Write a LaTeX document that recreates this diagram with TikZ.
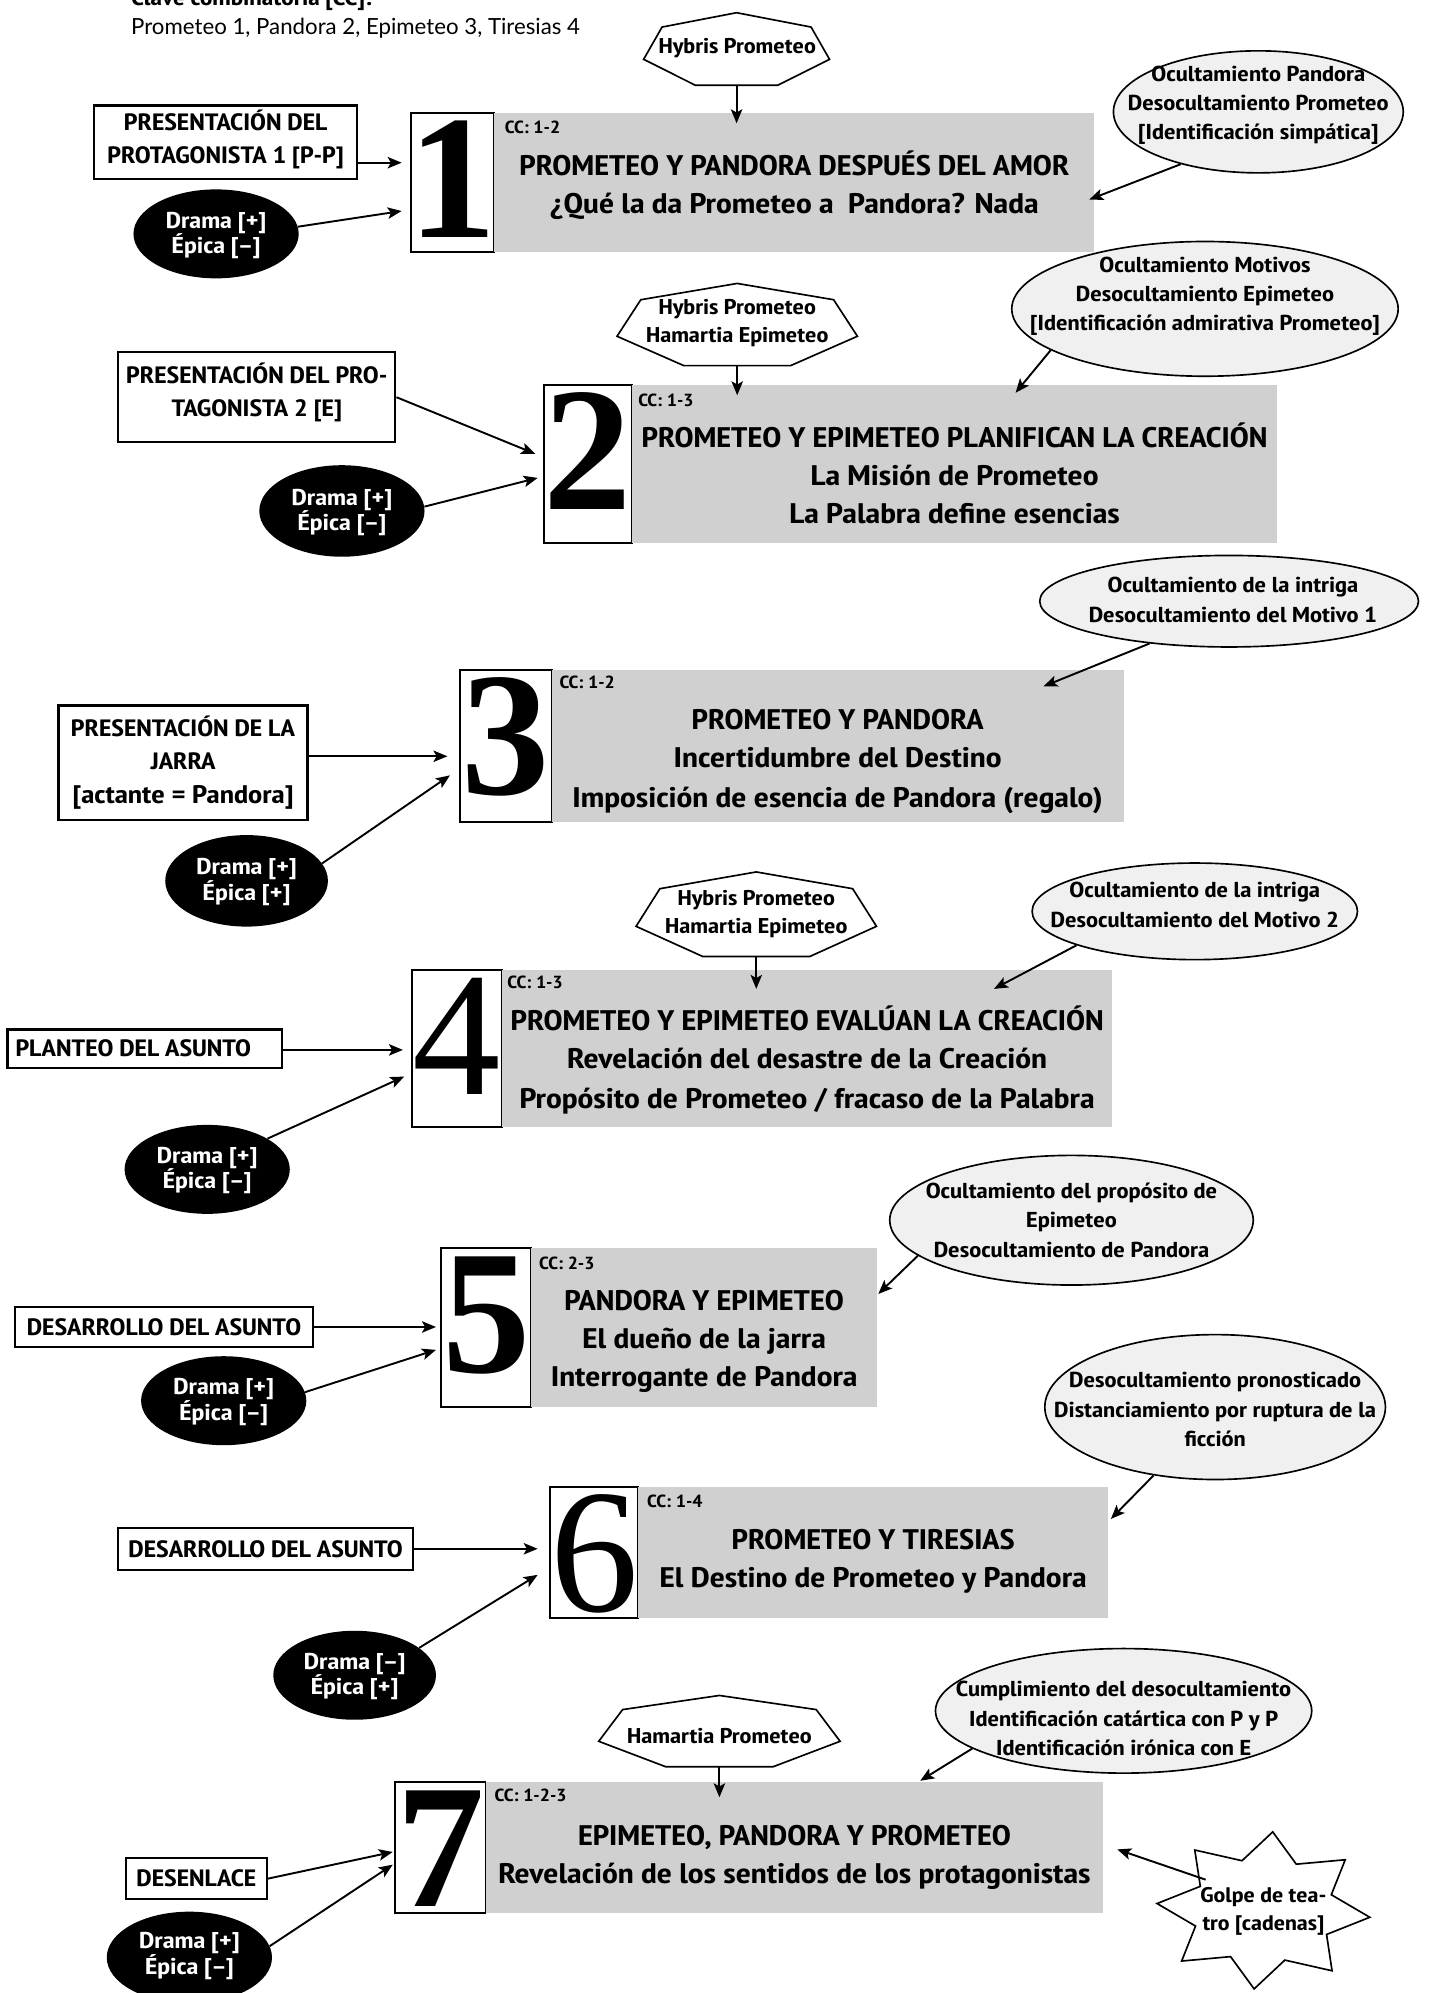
\documentclass[tikz,border=0pt]{standalone}
\usepackage{fontspec}
\setmainfont{Lato}
\newfontfamily\boldfam{PT Sans Narrow Bold}[FakeStretch=1.25]
\newfontfamily\capsfam{PT Sans Narrow Bold}[FakeStretch=1.215]
\newfontfamily\numfont{Liberation Serif}
\usetikzlibrary{arrows.meta,calc,shapes.geometric}
\definecolor{boxgray}{HTML}{D0D0D0}
\definecolor{ellgray}{HTML}{F0F0F0}
\newcommand\fs[2]{\fontsize{#1}{#2}\selectfont}
\newcommand\titlefont{\boldfam\fs{22.3}{30}}
\newcommand\titlecapsfont{\capsfam\fs{22.3}{30}}
\newcommand\ccfont{\capsfam\fs{13.8}{16}}
\newcommand\sidefont{\capsfam\fs{18.6}{26}}
\newcommand\blkfont{\boldfam\fs{18}{20}}
\newcommand\lellfont{\boldfam\fs{17}{23}}
\newcommand\heptfont{\boldfam\fs{16.8}{22}}
\newcommand\starfont{\boldfam\fs{16.6}{22}}
\newcommand\bigdigit[2]{{\numfont#1\fontsize{139}{139}\selectfont #2}}
\newcommand\heptagon[4]{%
  \draw[heptline] (#1,#2) +(-90:#3 and #4) -- +(-38.57:#3 and #4) -- +(12.86:#3 and #4)
   -- +(64.29:#3 and #4) -- +(115.71:#3 and #4) -- +(167.14:#3 and #4) -- +(218.57:#3 and #4) -- cycle;}
\begin{document}
\begin{tikzpicture}[x=1pt,y=-1pt,
  arr/.style={line width=1.5pt,-{Stealth[length=11pt,width=9pt,inset=2.5pt]}},
  sidebox/.style={draw,line width=1.8pt,fill=white,inner sep=0pt},
  sidetext/.style={font=\sidefont,align=center,inner sep=0pt},
  numbox/.style={draw,line width=1.5pt,fill=white,inner sep=0pt},
  graybox/.style={fill=boxgray,inner sep=0pt},
  numtext/.style={anchor=base,inner sep=0pt},
  blk/.style={ellipse,fill=black,inner sep=0pt},
  blktext/.style={font=\blkfont,text=white,align=center,inner sep=0pt},
  lell/.style={ellipse,draw,line width=1.3pt,fill=ellgray,inner sep=0pt},
  ltext/.style={font=\lellfont,align=center,inner sep=0pt},
  tline/.style={font=\titlefont,anchor=base,inner sep=0pt},
  tcaps/.style={font=\titlecapsfont,anchor=base,inner sep=0pt},
  cclabel/.style={font=\ccfont,anchor=base west,inner sep=0pt},
  heptline/.style={draw,line width=1.3pt,fill=white},
  hepttext/.style={font=\heptfont,align=center,inner sep=0pt}]
\useasboundingbox (0,0) rectangle (1133,1568);
\fill[white] (0,0) rectangle (1133,1568);
% header
\node[anchor=base west,inner sep=0pt,font=\boldfam\fs{17.5}{19}] (clave) at (103,4) {Clave combinatoria [CC]:};
\node[anchor=base west,inner sep=0pt,font=\fontsize{17.5}{19}\selectfont] (key) at (103,27.5) {Prometeo 1, Pandora 2, Epimeteo 3, Tiresias 4};

% ===== section 1
\node[numbox,minimum width=66,minimum height=109] (n1) at (356,143.5) {};
\node[graybox,minimum width=472,minimum height=109] (g1) at (625,143.5) {};
\node[numtext] (d1) at (356,187) {\bigdigit\bfseries{1}};
\node[cclabel] (c1) at (397,105) {CC: 1-2};
\node[tcaps] (t1a) at (625,138) {PROMETEO Y PANDORA DESPUÉS DEL AMOR};
\node[tline] (t1b) at (625,168) {¿Qué la da Prometeo a\ \ Pandora? Nada};
\heptagon{579.5}{40}{75}{30}
\node[hepttext] (h1) at (580,38) {Hybris Prometeo};
\coordinate (h1b) at (579.5,67);
\coordinate (g1t) at (579.5,97);
\draw[arr] (h1b) -- (g1t);
\node[sidebox,minimum width=207,minimum height=58] (p1) at (177.5,112) {};
\node[sidetext] (p1t) at (177.5,110) {PRESENTACIÓN DEL\\PROTAGONISTA 1 [P-P]};
\coordinate (n1a) at (316,128);
\draw[arr] (p1.east |- n1a) -- (n1a);
\node[blk,minimum width=130,minimum height=70] (e1) at (170,184) {};
\node[blktext] (e1t) at (170,185.5) {Drama [+]\\Épica [–]};
\coordinate (n1b) at (316,166);
\draw[arr] (e1.5) -- (n1b);
\node[lell,minimum width=228,minimum height=96] (l1) at (990,88) {};
\node[ltext] (l1t) at (990,83) {Ocultamiento Pandora\\Desocultamiento Prometeo\\{}[Identificación simpática]};
\coordinate (g1r) at (857,157);
\draw[arr] (l1.214) -- (g1r);

% ===== section 2
\node[numbox,minimum width=69,minimum height=124] (n2) at (462.5,365) {};
\node[graybox,minimum width=508,minimum height=124] (g2) at (751,365) {};
\node[numtext] (d2) at (462.5,401) {\bigdigit\bfseries{2}};
\node[cclabel] (c2) at (502,320) {CC: 1-3};
\node[tcaps] (t2a) at (751,352) {PROMETEO Y EPIMETEO PLANIFICAN LA CREACIÓN};
\node[tline] (t2b) at (751,382) {La Misión de Prometeo};
\node[tline] (t2c) at (751,412) {La Palabra define esencias};
\heptagon{580}{257}{97}{34}
\node[hepttext] (h2) at (580,254) {Hybris Prometeo\\Hamartia Epimeteo};
\coordinate (h2b) at (580,287.6);
\coordinate (g2t) at (580,311);
\draw[arr] (h2b) -- (g2t);
\node[sidebox,minimum width=218,minimum height=71] (p2) at (202,312.5) {};
\node[sidetext] (p2t) at (202,309) {PRESENTACIÓN DEL PRO-\\TAGONISTA 2 [E]};
\coordinate (n2a) at (421,357);
\draw[arr] (p2.east) -- (n2a);
\node[blk,minimum width=130,minimum height=72] (e2) at (269,402) {};
\node[blktext] (e2t) at (269,403) {Drama [+]\\Épica [–]};
\coordinate (n2b) at (423,376);
\draw[arr] (e2.3) -- (n2b);
\node[lell,minimum width=304,minimum height=106] (l2) at (948,243) {};
\node[ltext] (l2t) at (948,233) {Ocultamiento Motivos\\Desocultamiento Epimeteo\\{}[Identificación admirativa Prometeo]};
\coordinate (g2r) at (799,309);
\draw[arr] (l2.195) -- (g2r);

% ===== section 3
\node[numbox,minimum width=72,minimum height=120] (n3) at (398,587) {};
\node[graybox,minimum width=450,minimum height=120] (g3) at (659,587) {};
\node[numtext] (d3) at (398,625) {\bigdigit\bfseries{3}};
\node[cclabel] (c3) at (440,542) {CC: 1-2};
\node[tcaps] (t3a) at (659,574) {PROMETEO Y PANDORA};
\node[tline] (t3b) at (659,604) {Incertidumbre del Destino};
\node[tline] (t3c) at (659,635) {Imposición de esencia de Pandora (regalo)};
\node[sidebox,minimum width=196,minimum height=90] (p3) at (144,600) {};
\node[sidetext] (p3t) at (144,600) {PRESENTACIÓN DE LA\\JARRA\\{\boldfam\fs{20}{26}[actante = Pandora]}};
\coordinate (n3a) at (352,595);
\draw[arr] (p3.east |- n3a) -- (n3a);
\node[blk,minimum width=128,minimum height=72] (e3) at (194,693) {};
\node[blktext] (e3t) at (194,694) {Drama [+]\\Épica [+]};
\coordinate (n3b) at (354,610);
\draw[arr] (e3.13) -- (n3b);
\node[lell,minimum width=298,minimum height=72] (l3) at (967,473) {};
\node[ltext] (l3t) at (970,472) {Ocultamiento de la intriga\\Desocultamiento del Motivo 1};
\coordinate (g3r) at (821,540);
\draw[arr] (l3.208) -- (g3r);

% ===== section 4
\node[numbox,minimum width=71,minimum height=124] (n4) at (359.5,825) {};
\node[graybox,minimum width=480,minimum height=124] (g4) at (635,825) {};
\node[numtext] (d4) at (359.5,861) {\bigdigit\mdseries{4}};
\node[cclabel] (c4) at (399,778) {CC: 1-3};
\node[tcaps] (t4a) at (635,811) {PROMETEO Y EPIMETEO EVALÚAN LA CREACIÓN};
\node[tline] (t4b) at (635,841) {Revelación del desastre de la Creación};
\node[tline] (t4c) at (635,872) {Propósito de Prometeo / fracaso de la Palabra};
\heptagon{595}{721}{97}{35}
\node[hepttext] (h4) at (595,719) {Hybris Prometeo\\Hamartia Epimeteo};
\coordinate (h4b) at (595,752.5);
\coordinate (g4t) at (595,778);
\draw[arr] (h4b) -- (g4t);
\node[sidebox,minimum width=216,minimum height=30] (p4) at (114,825) {};
\node[font=\sidefont,anchor=west,inner sep=0pt] (p4t) at (12,825) {PLANTEO DEL ASUNTO};
\coordinate (n4a) at (317,826);
\draw[arr] (p4.east |- n4a) -- (n4a);
\node[blk,minimum width=130,minimum height=70] (e4) at (163,920) {};
\node[blktext] (e4t) at (163,921) {Drama [+]\\Épica [–]};
\coordinate (n4b) at (318,847);
\draw[arr] (e4.27) -- (n4b);
\node[lell,minimum width=256,minimum height=76] (l4) at (940,717) {};
\node[ltext] (l4t) at (940,712) {Ocultamiento de la intriga\\Desocultamiento del Motivo 2};
\coordinate (g4r) at (782,778);
\draw[arr] (l4.196) -- (g4r);

% ===== section 5
\node[numbox,minimum width=71,minimum height=125] (n5) at (382.5,1044.5) {};
\node[graybox,minimum width=272,minimum height=125] (g5) at (554,1044.5) {};
\node[numtext] (d5) at (382.5,1080) {\bigdigit\bfseries{5}};
\node[cclabel] (c5) at (424,999) {CC: 2-3};
\node[tcaps] (t5a) at (554,1031) {PANDORA Y EPIMETEO};
\node[tline] (t5b) at (554,1061) {El dueño de la jarra};
\node[tline] (t5c) at (554,1091) {Interrogante de Pandora};
\node[sidebox,minimum width=234,minimum height=31] (p5) at (129,1044) {};
\node[sidetext] (p5t) at (129,1044) {DESARROLLO DEL ASUNTO};
\coordinate (n5a) at (343,1044);
\draw[arr] (p5.east) -- (n5a);
\node[blk,minimum width=130,minimum height=70] (e5) at (176,1102) {};
\node[blktext] (e5t) at (176,1103) {Drama [+]\\Épica [–]};
\coordinate (n5b) at (343,1062);
\draw[arr] (e5.6) -- (n5b);
\node[lell,minimum width=286,minimum height=102] (l5) at (843,960) {};
\node[ltext] (l5t) at (843,960) {Ocultamiento del propósito de\\Epimeteo\\Desocultamiento de Pandora};
\coordinate (g5r) at (691,1018);
\draw[arr] (l5.193) -- (g5r);

% ===== section 6
\node[numbox,minimum width=69,minimum height=103] (n6) at (467.5,1221.5) {};
\node[graybox,minimum width=370,minimum height=103] (g6) at (687,1221.5) {};
\node[numtext] (d6) at (467.5,1268) {\bigdigit\mdseries{6}};
\node[cclabel] (c6) at (509,1186) {CC: 1-4};
\node[tcaps] (t6a) at (687,1219) {PROMETEO Y TIRESIAS};
\node[tline] (t6b) at (687,1249) {El Destino de Prometeo y Pandora};
\node[sidebox,minimum width=232,minimum height=33] (p6) at (209,1218.5) {};
\node[sidetext] (p6t) at (209,1218.5) {DESARROLLO DEL ASUNTO};
\coordinate (n6a) at (423,1218.5);
\draw[arr] (p6.east) -- (n6a);
\node[blk,minimum width=128,minimum height=70] (e6) at (279,1318) {};
\node[blktext] (e6t) at (279,1319) {Drama [–]\\Épica [+]};
\coordinate (n6b) at (423,1239);
\draw[arr] (e6.23) -- (n6b);
\node[lell,minimum width=268,minimum height=114] (l6) at (956,1107) {};
\node[ltext] (l6t) at (956,1109) {Desocultamiento pronosticado\\Distanciamiento por ruptura de la\\ficción};
\coordinate (g6r) at (874,1195);
\draw[arr] (l6.228) -- (g6r);

% ===== section 7
\node[numbox,minimum width=71,minimum height=103] (n7) at (346.5,1453.5) {};
\node[graybox,minimum width=486,minimum height=103] (g7) at (625,1453.5) {};
\node[numtext] (d7) at (346.5,1500) {\bigdigit\bfseries{7}};
\node[cclabel] (c7) at (389,1417) {CC: 1-2-3};
\node[tcaps] (t7a) at (625,1452) {EPIMETEO, PANDORA Y PROMETEO};
\node[tline] (t7b) at (625,1482) {Revelación de los sentidos de los protagonistas};
\heptagon{566}{1363.4}{97.4}{29.5}
\node[hepttext] (h7) at (566,1366) {Hamartia Prometeo};
\coordinate (h7b) at (566,1390);
\coordinate (g7t) at (566,1414);
\draw[arr] (h7b) -- (g7t);
\node[sidebox,minimum width=111,minimum height=32] (p7) at (154.5,1478) {};
\node[sidetext] (p7t) at (154.5,1478) {DESENLACE};
\coordinate (n7a) at (309,1457);
\draw[arr] (p7.east) -- (n7a);
\node[blk,minimum width=130,minimum height=72] (e7) at (149,1540) {};
\node[blktext] (e7t) at (149,1539) {Drama [+]\\Épica [–]};
\coordinate (n7b) at (309,1467);
\draw[arr] (e7.8) -- (n7b);
\node[lell,minimum width=296,minimum height=98] (l7) at (884,1346) {};
\node[ltext] (l7t) at (884,1352) {Cumplimiento del desocultamiento\\Identificación catártica con P y P\\Identificación irónica con E};
\coordinate (g7r) at (724,1401);
\draw[arr] (l7.194) -- (g7r);
% star
\draw[heptline] (994,1503) +(-85:84 and 62) -- +(-62.5:56 and 41) -- +(-40:84 and 62) -- +(-17.5:56 and 41)
  -- +(5:84 and 62) -- +(27.5:56 and 41) -- +(50:84 and 62) -- +(72.5:56 and 41)
  -- +(95:84 and 62) -- +(117.5:56 and 41) -- +(140:84 and 62) -- +(162.5:56 and 41)
  -- +(185:84 and 62) -- +(207.5:56 and 41) -- +(230:84 and 62) -- +(252.5:56 and 41) -- cycle;
\node[ellipse,minimum width=112,minimum height=82,inner sep=0pt] (st) at (994,1503) {};
\node[font=\starfont,align=center,inner sep=0pt] (stt) at (994,1504) {Golpe de tea-\\tro [cadenas]};
\coordinate (g7s) at (879,1455);
\draw[arr] (st.152) -- (g7s);
\end{tikzpicture}
\end{document}
